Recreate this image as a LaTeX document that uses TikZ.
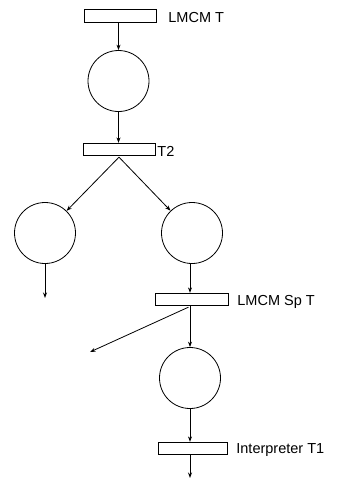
\documentclass[tikz,border=0pt]{standalone}
\usepackage{fontspec}
\setmainfont{Liberation Sans}
\usetikzlibrary{arrows.meta}
\begin{document}
\begin{tikzpicture}[x=1pt,y=-1pt,
  line width=0.8pt,
  trans/.style={draw, rectangle, minimum width=72pt, minimum height=12.5pt, inner sep=0pt},
  place/.style={draw, circle, minimum size=61pt, inner sep=0pt},
  lbl/.style={anchor=west, inner sep=0pt, font=\fontsize{14.5}{17}\selectfont},
  arc/.style={-{Stealth[length=5.5pt,width=4pt]}}]
\useasboundingbox (0,0) rectangle (337,488);
\node[trans] (t1) at (120.5,16) {};
\node[place] (p1) at (118.5,81) {};
\node[trans] (t2) at (119,149.5) {};
\node[place] (p2) at (45,233) {};
\node[place] (p3) at (192,233) {};
\node[trans, minimum width=73pt] (t3) at (191.5,299.5) {};
\node[place] (p4) at (190,378) {};
\node[trans, minimum width=69pt] (t4) at (192.5,448.5) {};
\coordinate (e2) at (45,298);
\coordinate (e3) at (90,352);
\coordinate (e4) at (190,478);
\node[lbl] (l1) at (168,18) {LMCM T};
\node[lbl] (l2) at (157,151.5) {T2};
\node[lbl] (l3) at (237,301.5) {LMCM Sp T};
\node[lbl] (l4) at (236,450) {Interpreter T1};
\draw[arc] (t1.south -| p1) -- (p1);
\draw[arc] (p1) -- (p1 |- t2.north);
\draw[arc] ([yshift=-1pt]t2.south) -- (p2);
\draw[arc] ([yshift=-1pt]t2.south) -- (p3);
\draw[arc] (p2) -- (e2);
\draw[arc] (p3.south -| 190,0) -- (190,0 |- t3.north);
\draw[arc] ([xshift=-3pt,yshift=-1pt]t3.south) -- (e3);
\draw[arc] (t3.south -| p4) -- (p4);
\draw[arc] (p4) -- (p4 |- t4.north);
\draw[arc] (t4.south -| e4) -- (e4);
\end{tikzpicture}
\end{document}
